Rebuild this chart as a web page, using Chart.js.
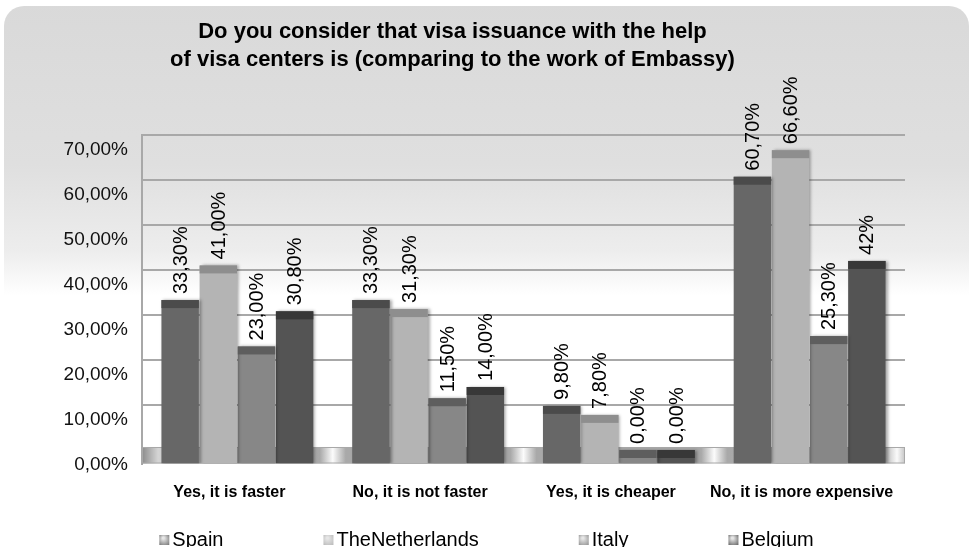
<!DOCTYPE html>
<html>
<head>
<meta charset="utf-8">
<script src="https://cdn.jsdelivr.net/npm/chart.js@4.4.1/dist/chart.umd.min.js"></script>
<style>
  html, body { margin: 0; padding: 0; background: #fff; }
  canvas { display: block; }
</style>
</head>
<body>
<canvas id="chart" width="973" height="547"></canvas>
<script>
// values (percent)
const categories = ['Yes, it is faster', 'No, it is not faster', 'Yes, it is cheaper', 'No, it is more expensive'];
const seriesNames = ['Spain', 'TheNetherlands', 'Italy', 'Belgium'];
const spain = [33.3, 33.3, 9.8, 60.7];
const netherlands = [41.0, 31.3, 7.8, 66.6];
const italy = [23.0, 11.5, 0.0, 25.3];
const belgium = [30.8, 14.0, 0.0, 42.0];
// value labels as printed on the bars
const spainLabels = ['33,30%', '33,30%', '9,80%', '60,70%'];
const netherlandsLabels = ['41,00%', '31,30%', '7,80%', '66,60%'];
const italyLabels = ['23,00%', '11,50%', '0,00%', '25,30%'];
const belgiumLabels = ['30,80%', '14,00%', '0,00%', '42%'];
const yTicks = [0, 10, 20, 30, 40, 50, 60, 70];
const yTickLabels = ['0,00%', '10,00%', '20,00%', '30,00%', '40,00%', '50,00%', '60,00%', '70,00%'];
const titleLines = ['Do you consider that visa issuance with the help', 'of visa centers is (comparing to the work of Embassy)'];

const FLOOR = -3; // depth of the 3d floor under zero
const FONT = "'Liberation Sans', Arial, sans-serif";

Chart.defaults.font.family = FONT;
Chart.defaults.color = '#000';

// grey rounded panel with a fade to white
const panel = {
  id: 'panel',
  beforeDraw(chart) {
    const {ctx, width, height} = chart;
    ctx.save();
    ctx.fillStyle = '#fff';
    ctx.fillRect(0, 0, width, height);
    const g = ctx.createLinearGradient(0, 0, 0, height);
    g.addColorStop(0, '#d9d9d9');
    g.addColorStop(0.3, '#dfdfdf');
    g.addColorStop(0.46, '#ededed');
    g.addColorStop(0.54, '#ffffff');
    g.addColorStop(1, '#ffffff');
    const x = 4, y = 6, w = width - 8, h = height + 30, r = 20;
    ctx.beginPath();
    ctx.moveTo(x + r, y);
    ctx.arcTo(x + w, y, x + w, y + h, r);
    ctx.arcTo(x + w, y + h, x, y + h, r);
    ctx.arcTo(x, y + h, x, y, r);
    ctx.arcTo(x, y, x + w, y, r);
    ctx.closePath();
    ctx.fillStyle = g;
    ctx.fill();
    ctx.restore();
  }
};

// floor band with light spots between the groups
const floor = {
  id: 'floor',
  beforeDatasetsDraw(chart) {
    const {ctx, chartArea: a, scales: {x, y}} = chart;
    const top = y.getPixelForValue(0) - 3;
    const w = a.right - a.left;
    const pos = px => Math.min(1, Math.max(0, (px - a.left) / w));
    const g = ctx.createLinearGradient(a.left, 0, a.right, 0);
    g.addColorStop(0, '#8c8c8c');
    g.addColorStop(pos(a.left + 16), '#d4d4d4');
    for (let i = 1; i < categories.length; i++) {
      const mid = (x.getPixelForValue(i - 1) + x.getPixelForValue(i)) / 2;
      g.addColorStop(pos(mid - 13), '#a9a9a9');
      g.addColorStop(pos(mid), '#fbfbfb');
      g.addColorStop(pos(mid + 13), '#a9a9a9');
    }
    g.addColorStop(pos(a.right - 22), '#b0b0b0');
    g.addColorStop(pos(a.right - 8), '#fafafa');
    g.addColorStop(1, '#c4c4c4');
    ctx.save();
    ctx.fillStyle = g;
    ctx.fillRect(a.left, top, w, a.bottom - top);
    ctx.strokeStyle = '#a8a8a8';
    ctx.lineWidth = 1;
    ctx.strokeRect(a.left + 0.5, top + 0.5, w - 1, a.bottom - top - 1);
    ctx.restore();
  }
};

// soft shadow right of each bar
const barShadow = {
  id: 'barShadow',
  beforeDatasetDraw(chart) {
    const ctx = chart.ctx;
    ctx.save();
    ctx.shadowColor = 'rgba(0,0,0,0.35)';
    ctx.shadowOffsetX = 2;
    ctx.shadowOffsetY = 0;
    ctx.shadowBlur = 3;
  },
  afterDatasetDraw(chart) {
    chart.ctx.restore();
  }
};

// darker top face and rotated value labels
const barTops = {
  id: 'barTops',
  afterDatasetsDraw(chart) {
    const ctx = chart.ctx;
    ctx.save();
    chart.data.datasets.forEach((ds, i) => {
      chart.getDatasetMeta(i).data.forEach((bar, j) => {
        const {x, y, base, width} = bar.getProps(['x', 'y', 'base', 'width'], true);
        ctx.fillStyle = ds.capColor;
        ctx.fillRect(x - width / 2, y, width, Math.min(8, base - y));
        ctx.save();
        ctx.translate(x, y - 6);
        ctx.rotate(-Math.PI / 2);
        ctx.font = '20px ' + FONT;
        ctx.fillStyle = '#000';
        ctx.textAlign = 'left';
        ctx.textBaseline = 'middle';
        ctx.fillText(ds.valueLabels[j], 0, 1);
        ctx.restore();
      });
    });
    ctx.restore();
  }
};

// legend row along the bottom edge
const bottomLegend = {
  id: 'bottomLegend',
  afterDraw(chart) {
    const {ctx, width, height} = chart;
    const box = 10, gap = 3, spacing = 100;
    ctx.save();
    ctx.font = '20px ' + FONT;
    ctx.textBaseline = 'middle';
    ctx.textAlign = 'left';
    const items = chart.data.datasets.map(ds => ({text: ds.label, color: ds.backgroundColor, w: box + gap + ctx.measureText(ds.label).width}));
    const total = items.reduce((s, it) => s + it.w, 0) + spacing * (items.length - 1);
    let cx = (width - total) / 2;
    const cy = height - 7;
    items.forEach(it => {
      const g = ctx.createRadialGradient(cx + 4, cy - 2, 1, cx + 5, cy, 8);
      g.addColorStop(0, '#e6e6e6');
      g.addColorStop(1, it.color);
      ctx.fillStyle = g;
      ctx.fillRect(cx, cy - 5, box, box);
      ctx.fillStyle = '#000';
      ctx.fillText(it.text, cx + box + gap, cy);
      cx += it.w + spacing;
    });
    ctx.restore();
  }
};

const mk = (name, data, labels, color, cap) => ({
  label: name,
  data: data,
  valueLabels: labels,
  backgroundColor: color,
  capColor: cap,
  base: FLOOR,
  borderWidth: 0,
  barPercentage: 0.98,
  categoryPercentage: 0.8
});

new Chart(document.getElementById('chart'), {
  type: 'bar',
  data: {
    labels: categories,
    datasets: [
      mk(seriesNames[0], spain, spainLabels, '#676767', '#4b4b4b'),
      mk(seriesNames[1], netherlands, netherlandsLabels, '#b4b4b4', '#8e8e8e'),
      mk(seriesNames[2], italy, italyLabels, '#878787', '#5e5e5e'),
      mk(seriesNames[3], belgium, belgiumLabels, '#545454', '#383838')
    ]
  },
  options: {
    responsive: false,
    animation: false,
    devicePixelRatio: 1,
    layout: { padding: { left: 0, right: 68, top: 0, bottom: 33.5 } },
    plugins: {
      legend: { display: false },
      tooltip: { enabled: false },
      title: {
        display: true,
        text: titleLines,
        color: '#000',
        font: { size: 22, weight: 'bold', lineHeight: 1.27 },
        padding: { top: 18, bottom: 61 }
      }
    },
    scales: {
      x: {
        grid: { display: false, drawTicks: false },
        border: { display: false },
        ticks: { color: '#000', font: { size: 16, weight: 'bold' }, padding: 19, labelOffset: -8, maxRotation: 0, autoSkip: false },
        afterFit: s => { s.height = 50; }
      },
      y: {
        min: FLOOR,
        max: 70,
        afterBuildTicks: s => { s.ticks = yTicks.map(v => ({ value: v })); },
        afterFit: s => { s.width = 142; },
        grid: { color: '#a8a8a8', lineWidth: 2, drawTicks: false },
        border: { display: true, color: '#a8a8a8', width: 2 },
        ticks: {
          padding: 14,
          labelOffset: 15,
          color: '#111',
          font: { size: 19 },
          callback: (v, i) => yTickLabels[i]
        }
      }
    }
  },
  plugins: [panel, floor, barShadow, barTops, bottomLegend]
});
</script>
</body>
</html>
